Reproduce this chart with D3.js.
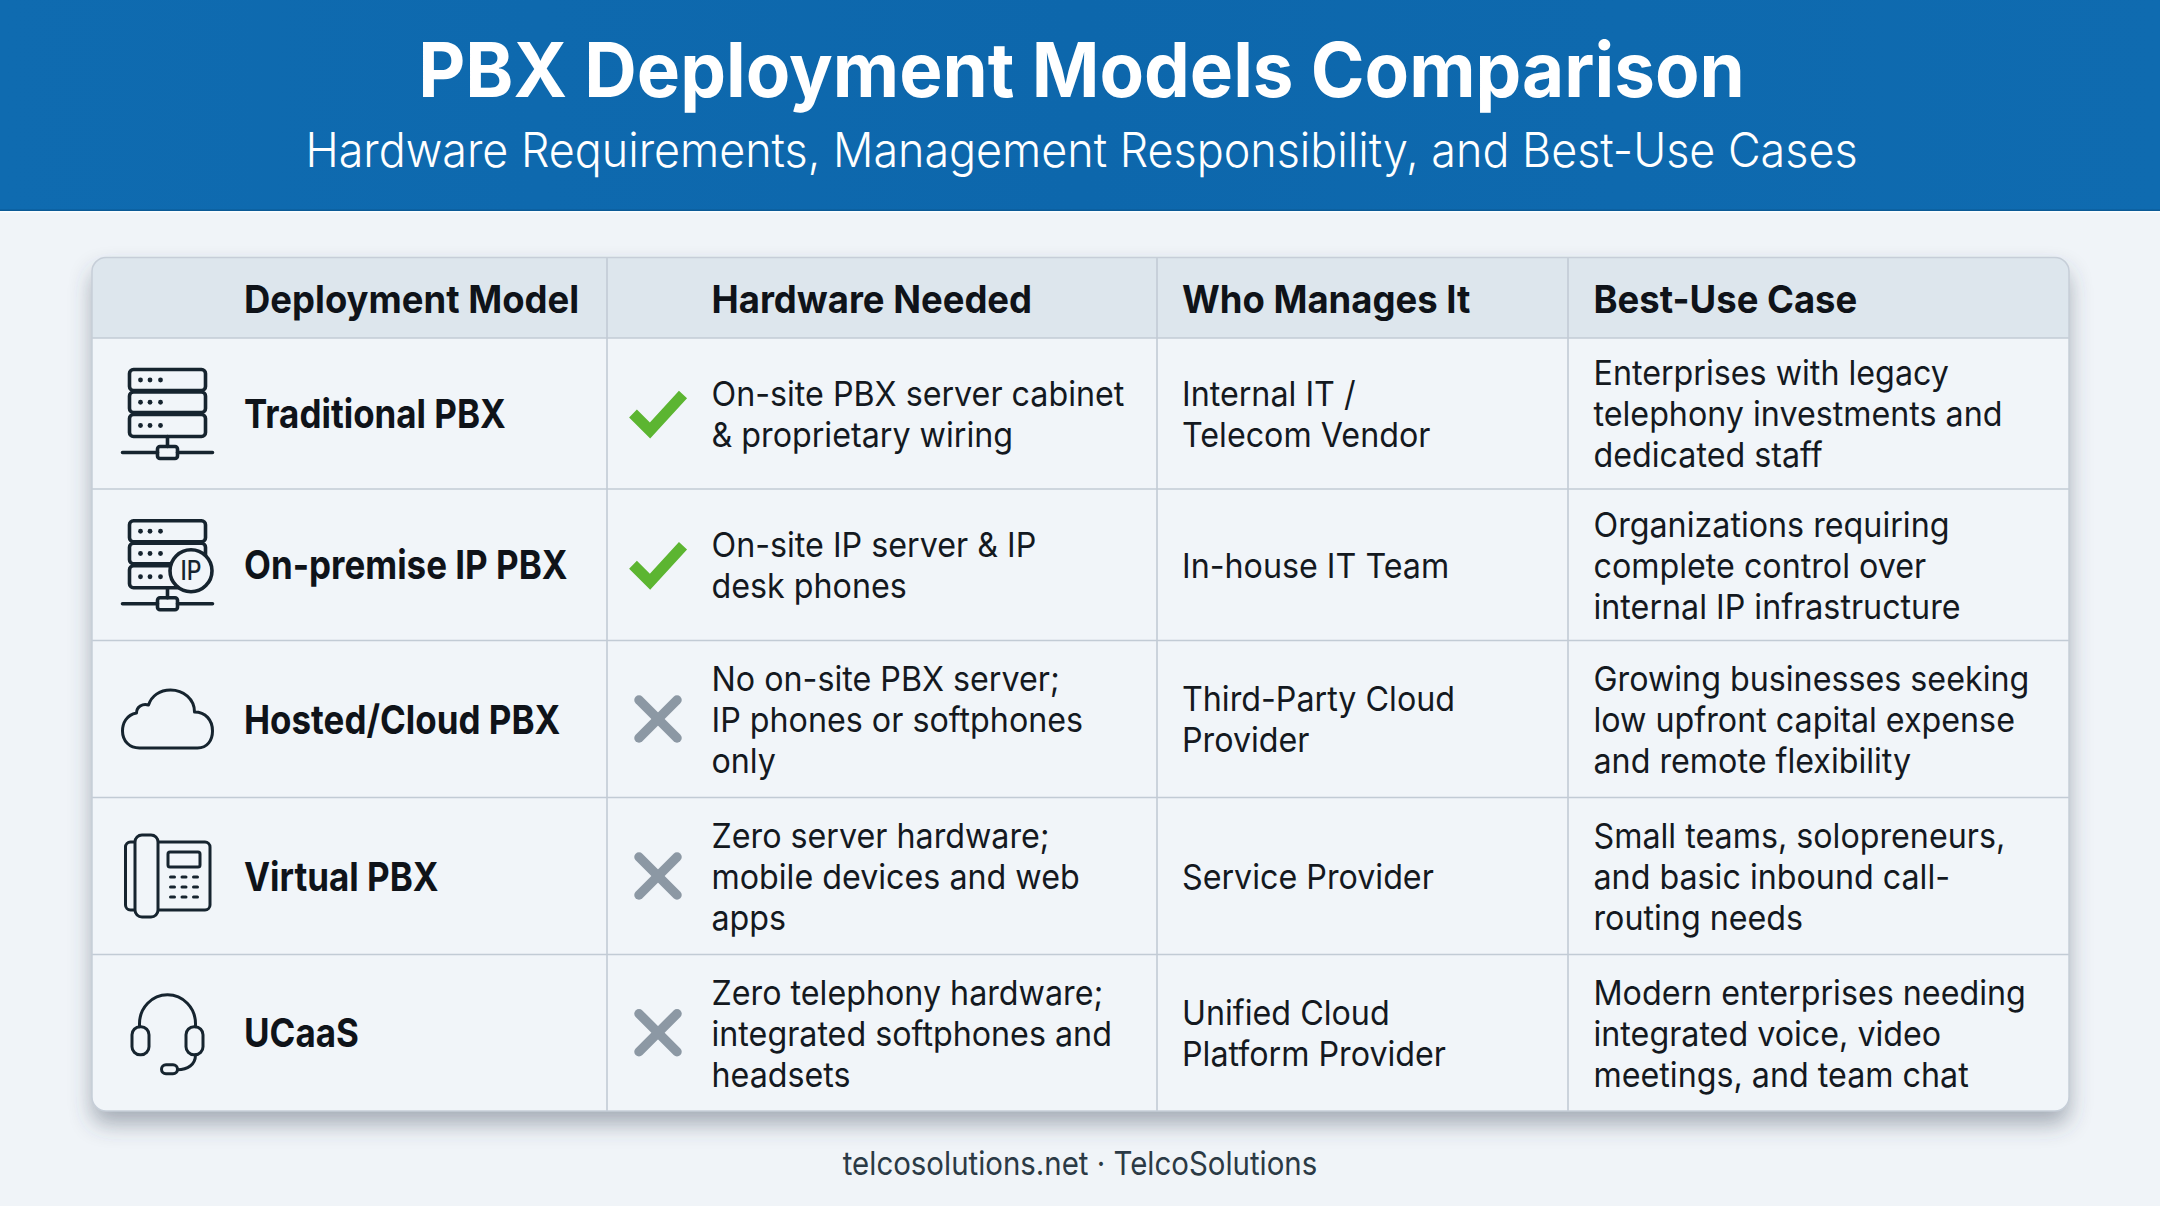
<!DOCTYPE html>
<html><head><meta charset="utf-8">
<script src="https://cdn.jsdelivr.net/npm/d3@7/dist/d3.min.js"></script>
<style>html,body{margin:0;padding:0;background:#f0f4f8;overflow:hidden}svg{display:block}</style>
</head><body><svg id="c" width="2160" height="1206"></svg>
<script>
// ---- data ----
const titleText = "PBX Deployment Models Comparison";
const subtitleText = "Hardware Requirements, Management Responsibility, and Best-Use Cases";
const footerText = "telcosolutions.net · TelcoSolutions";
const columns = ["Deployment Model","Hardware Needed","Who Manages It","Best-Use Case"];
const models = ["Traditional PBX","On-premise IP PBX","Hosted/Cloud PBX","Virtual PBX","UCaaS"];
const icons = ["server","serverIP","cloud","phone","headset"];
const hardwareRequired = [true,true,false,false,false];
const hardware = [
 ["On-site PBX server cabinet","& proprietary wiring"],
 ["On-site IP server & IP","desk phones"],
 ["No on-site PBX server;","IP phones or softphones","only"],
 ["Zero server hardware;","mobile devices and web","apps"],
 ["Zero telephony hardware;","integrated softphones and","headsets"]];
const managers = [
 ["Internal IT /","Telecom Vendor"],
 ["In-house IT Team"],
 ["Third-Party Cloud","Provider"],
 ["Service Provider"],
 ["Unified Cloud","Platform Provider"]];
const useCases = [
 ["Enterprises with legacy","telephony investments and","dedicated staff"],
 ["Organizations requiring","complete control over","internal IP infrastructure"],
 ["Growing businesses seeking","low upfront capital expense","and remote flexibility"],
 ["Small teams, solopreneurs,","and basic inbound call-","routing needs"],
 ["Modern enterprises needing","integrated voice, video","meetings, and team chat"]];

// ---- layout ----
const colEdges=[92,607,1157,1568,2069], rowEdges=[338,489,640.5,797.5,954.5,1111];
const tableTop=257.5, lineGap=41, FONT="Inter, 'Noto Sans', sans-serif";
const textX=[244,711.5,1182,1593.5];
const svg=d3.select("#c");
const rowTop=d3.scaleOrdinal(models,rowEdges.slice(0,5));
const rowBottom=d3.scaleOrdinal(models,rowEdges.slice(1));
const mid=m=>(rowTop(m)+rowBottom(m))/2;
const place=(x,y,k)=>`translate(${x},${y}) scale(${k},1)`;

const defs=svg.append("defs");
const hg=defs.append("linearGradient").attr("id","hg").attr("x1",0).attr("x2",1).attr("y1",0).attr("y2",0);
hg.append("stop").attr("offset",0).attr("stop-color","#0f6bb0");
hg.append("stop").attr("offset",0.5).attr("stop-color","#0d67ac");
hg.append("stop").attr("offset",1).attr("stop-color","#0f6bb0");
const f=defs.append("filter").attr("id","sh").attr("x","-5%").attr("y","-5%").attr("width","110%").attr("height","118%");
f.append("feDropShadow").attr("dx",0).attr("dy",13).attr("stdDeviation",11).attr("flood-color","#3a4a5c").attr("flood-opacity",0.42);
const clip=defs.append("clipPath").attr("id","tc");
clip.append("rect").attr("x",colEdges[0]).attr("y",tableTop).attr("width",colEdges[4]-colEdges[0]).attr("height",rowEdges[5]-tableTop).attr("rx",14);

svg.append("rect").attr("width",2160).attr("height",1206).attr("fill","#f0f4f8");
svg.append("rect").attr("width",2160).attr("height",211).attr("fill","url(#hg)");
svg.append("rect").attr("y",209.5).attr("width",2160).attr("height",1.5).attr("fill","#0b5a96");
svg.append("rect").attr("y",211).attr("width",2160).attr("height",1.5).attr("fill","#fafdff");

svg.append("text").attr("transform",place(1081.5,96.5,0.957)).attr("text-anchor","middle").attr("fill","#fff")
 .attr("font-family",FONT).attr("font-weight",700).attr("font-size",76).text(titleText);
svg.append("text").attr("transform",place(1081.5,166.5,0.935)).attr("text-anchor","middle").attr("fill","#fff")
 .attr("font-family",FONT).attr("font-weight",300).attr("font-size",48).text(subtitleText);

// table
svg.append("rect").attr("x",colEdges[0]).attr("y",tableTop).attr("width",colEdges[4]-colEdges[0]).attr("height",rowEdges[5]-tableTop).attr("rx",14).attr("fill","#f1f5f9").attr("filter","url(#sh)");
const t=svg.append("g").attr("clip-path","url(#tc)");
t.append("rect").attr("x",colEdges[0]).attr("y",tableTop).attr("width",colEdges[4]-colEdges[0]).attr("height",rowEdges[0]-tableTop).attr("fill","#dde6ed");
const gridColor="#c2cbd5";
t.selectAll("line.r").data(rowEdges.slice(0,5)).join("line").attr("class","r")
 .attr("x1",colEdges[0]).attr("x2",colEdges[4]).attr("y1",d=>d).attr("y2",d=>d).attr("stroke",gridColor).attr("stroke-width",1.6);
t.selectAll("line.c").data(colEdges.slice(1,4)).join("line").attr("class","c")
 .attr("y1",tableTop).attr("y2",rowEdges[5]).attr("x1",d=>d).attr("x2",d=>d).attr("stroke",gridColor).attr("stroke-width",1.6);
svg.append("rect").attr("x",colEdges[0]).attr("y",tableTop).attr("width",colEdges[4]-colEdges[0]).attr("height",rowEdges[5]-tableTop).attr("rx",14).attr("fill","none").attr("stroke","#c6ced8").attr("stroke-width",1.5);

svg.selectAll("text.h").data(columns).join("text").attr("class","h")
 .attr("transform",(d,i)=>place(textX[i],313,0.947)).attr("fill","#0f1319").attr("font-family",FONT).attr("font-weight",700).attr("font-size",38.5).text(d=>d);
svg.selectAll("text.m").data(models).join("text").attr("class","m")
 .attr("transform",d=>place(textX[0],mid(d)+14.5,0.874)).attr("fill","#0f1319").attr("font-family",FONT).attr("font-weight",700).attr("font-size",40).text(d=>d);

function multi(cls,arr,x){
 const g=svg.selectAll("g."+cls).data(arr).join("g").attr("class",cls);
 g.each(function(lines,i){
  const cy=mid(models[i]);
  d3.select(this).selectAll("text").data(lines).join("text")
   .attr("transform",(d,j)=>place(x,cy+(j-(lines.length-1)/2)*lineGap+12.8,0.935))
   .attr("fill","#14191f").attr("font-family",FONT).attr("font-size",34.5).text(d=>d);
 });
}
multi("hw",hardware,textX[1]);
multi("mg",managers,textX[2]);
multi("uc",useCases,textX[3]);

// check / cross marks
const markG=svg.selectAll("g.mark").data(models).join("g").attr("class","mark")
 .attr("transform",d=>`translate(658,${mid(d)})`);
markG.each(function(d,i){
 const g=d3.select(this);
 if(hardwareRequired[i]){
  g.append("path").attr("d",d3.line()([[-25,0],[-8,17],[25,-19]])).attr("fill","none").attr("stroke","#5cb531").attr("stroke-width",11);
 }else{
  [[[-19,-19],[19,19]],[[-19,19],[19,-19]]].forEach(p=>g.append("path").attr("d",d3.line()(p)).attr("stroke","#8c98a4").attr("stroke-width",9.5).attr("stroke-linecap","round").attr("fill","none"));
 }
});

// icons
const ink="#16242f";
const iconG=svg.selectAll("g.icon").data(models).join("g").attr("class","icon")
 .attr("transform",d=>`translate(167.5,${mid(d)})`)
 .attr("fill","none").attr("stroke",ink).attr("stroke-width",3.6).attr("stroke-linecap","round").attr("stroke-linejoin","round");
function server(g,ip){
 [[-44,-23],[-21.5,-1],[1,23]].forEach(([a,b])=>{
  g.append("rect").attr("x",-38).attr("y",a).attr("width",76).attr("height",b-a).attr("rx",4);
  [-27,-17.5,-7].forEach(x=>g.append("circle").attr("cx",x).attr("cy",(a+b)/2).attr("r",2.4).attr("fill",ink).attr("stroke","none"));
 });
 g.append("path").attr("d","M0,23V33M-45,39H-10M10,39H45");
 g.append("rect").attr("x",-10).attr("y",33).attr("width",20).attr("height",12).attr("rx",2.5);
 if(ip){
  g.append("circle").attr("cx",23.5).attr("cy",6).attr("r",21).attr("fill","#f1f5f9");
  g.append("text").attr("transform",place(23.5,15.5,0.85)).attr("text-anchor","middle").attr("fill",ink).attr("stroke","none")
   .attr("font-family",FONT).attr("font-weight",500).attr("font-size",27).text("IP");
 }
}
const iconDraw={
 server:g=>server(g,false),
 serverIP:g=>server(g,true),
 cloud:g=>g.attr("stroke-width",3).append("path").attr("d","M-28,29H30C40,29 45,21 45,12C45,1 38,-7 27,-7C27,-20 16,-29 3,-29C-8,-29 -16,-23 -19,-14C-25,-16 -31,-12 -31,-6C-41,-4 -45,4 -45,12C-45,22 -38,29 -28,29Z"),
 phone:g=>{
  g.attr("stroke-width",3);
  g.append("rect").attr("x",-42).attr("y",-34).attr("width",84.5).attr("height",68).attr("rx",5);
  g.append("rect").attr("x",-32.5).attr("y",-41).attr("width",23).attr("height",82).attr("rx",7).attr("fill","#f1f5f9");
  g.append("rect").attr("x",0.5).attr("y",-24).attr("width",32).attr("height",15).attr("rx",2);
  [1,11,21].forEach(y=>[3,14.5,26].forEach(x=>g.append("path").attr("d",`M${x},${y}h4`)));
 },
 headset:g=>{
  g.attr("stroke-width",3);
  g.append("path").attr("d","M-28,-6V-9A28,29 0 0 1 28,-9V-6");
  g.append("rect").attr("x",-35.5).attr("y",-6).attr("width",17).attr("height",28).attr("rx",8);
  g.append("rect").attr("x",18.5).attr("y",-6).attr("width",17).attr("height",28).attr("rx",8);
  g.append("path").attr("d","M28,22C28,32 20,37 10,37");
  g.append("rect").attr("x",-6).attr("y",32).attr("width",16).attr("height",9).attr("rx",4.5);
 }
};
iconG.each(function(d,i){iconDraw[icons[i]](d3.select(this));});

svg.append("text").attr("transform",place(1080,1175,0.892)).attr("text-anchor","middle").attr("fill","#2b3a45")
 .attr("font-family",FONT).attr("font-size",33).text(footerText);
</script></body></html>
